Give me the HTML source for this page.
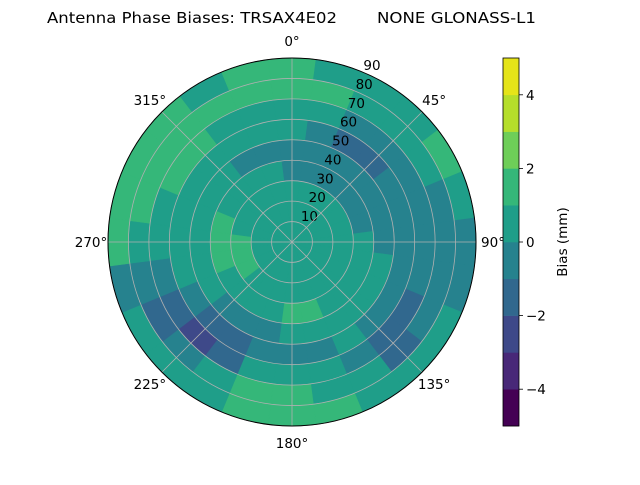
<!DOCTYPE html>
<html><head><meta charset="utf-8"><style>
body{margin:0;background:#fff;}
svg{font-family:"DejaVu Sans","Liberation Sans",sans-serif;}
</style></head><body>
<svg id="chart" width="640" height="480" viewBox="0 0 640 480" xmlns="http://www.w3.org/2000/svg">
<text x="47" y="23" font-size="15" textLength="290" lengthAdjust="spacingAndGlyphs">Antenna Phase Biases: TRSAX4E02</text>
<text x="377" y="23" font-size="15" textLength="159" lengthAdjust="spacingAndGlyphs">NONE GLONASS-L1</text>
<g id="cells"></g>
<g id="grid"></g>
<g id="cbar"></g>
</svg>
<script>
const ringEdges=[0,10,20,30,40,50,60,70,80,90];
const sectorAngles=[0,15,30,45,60,75,90,105,120,135,150,165,180,195,210,225,240,255,270,285,300,315,330,345];
const ring0=[0.5,0.5,0.5,0.5,0.5,0.5,0.5,0.5,0.5,0.5,0.5,0.5,0.5,0.5,0.5,0.5,0.5,0.5,0.5,0.5,0.5,0.5,0.5,0.5];
const ring1=[0.5,0.5,0.5,0.5,0.5,0.5,0.5,0.5,0.5,0.5,0.5,0.5,0.5,0.5,0.5,0.5,0.5,0.5,0.5,0.5,0.5,0.5,0.5,0.5];
const ring2=[0.5,0.5,0.5,0.5,0.5,0.5,0.5,0.5,0.5,0.5,0.5,0.5,0.5,0.5,0.5,0.5,1.5,1.5,1.5,0.5,0.5,0.5,0.5,0.5];
const ring3=[-0.5,-0.5,-0.5,-0.5,-0.5,-0.5,0.5,0.5,0.5,0.5,0.5,1.5,1.5,0.5,0.5,0.5,0.5,1.5,1.5,1.5,0.5,0.5,0.5,0.5];
const ring4=[-0.5,-0.5,-0.5,-0.5,-0.5,-0.5,-0.5,0.5,0.5,0.5,0.5,0.5,0.5,-0.5,-0.5,-0.5,0.5,0.5,0.5,0.5,0.5,0.5,-0.5,-0.5];
const ring5=[0.5,-0.5,-1.5,-1.5,-0.5,-0.5,-0.5,-0.5,-0.5,-0.5,0.5,-0.5,-0.5,-0.5,-1.5,-1.5,-0.5,0.5,0.5,0.5,0.5,0.5,0.5,0.5];
const ring6=[0.5,0.5,-0.5,-0.5,-0.5,-0.5,-0.5,-0.5,-1.5,-1.5,-0.5,0.5,0.5,0.5,-1.5,-2.5,-1.5,-0.5,0.5,0.5,1.5,1.5,0.5,0.5];
const ring7=[1.5,1.5,0.5,0.5,0.5,-0.5,-0.5,-0.5,-0.5,-1.5,0.5,0.5,1.5,1.5,0.5,-0.5,-1.5,-0.5,0.5,1.5,1.5,1.5,1.5,1.5];
const ring8=[1.5,0.5,0.5,0.5,1.5,0.5,-0.5,-0.5,0.5,0.5,0.5,1.5,1.5,1.5,0.5,0.5,0.5,-0.5,1.5,1.5,1.5,1.5,0.5,1.5];
const rings=[ring0,ring1,ring2,ring3,ring4,ring5,ring6,ring7,ring8];
const levels=[-5,-4,-3,-2,-1,0,1,2,3,4,5];
const cbTicks=[-4,-2,0,2,4];
const colors=["#440154","#482878","#3e4989","#31688e","#26828e","#1f9e89","#35b779","#6ece58","#b5de2b","#e5e419"];
const rLabels=[10,20,30,40,50,60,70,80,90];
const aLabels=[0,45,90,135,180,225,270,315];

const NS="http://www.w3.org/2000/svg";
const cx=292,cy=242,R=184,rMax=90;
const rs=v=>v/rMax*R;
function pt(deg,r){const a=deg*Math.PI/180;return [cx+r*Math.sin(a),cy-r*Math.cos(a)];}
function mk(tag,attrs,parent){const e=document.createElementNS(NS,tag);for(const k in attrs)e.setAttribute(k,attrs[k]);parent.appendChild(e);return e;}
const colorOf=v=>colors[Math.max(0,Math.min(9,Math.floor(v)+5))];

const cells=document.getElementById('cells');
rings.forEach((row,ri)=>{
  const r0=rs(ringEdges[ri]),r1=rs(ringEdges[ri+1]);
  row.forEach((v,si)=>{
    const a0=sectorAngles[si]-7.5,a1=sectorAngles[si]+7.5;
    const p0=pt(a0,r1),p1=pt(a1,r1),p2=pt(a1,r0),p3=pt(a0,r0);
    const d=`M${p0[0]},${p0[1]} A${r1},${r1} 0 0 1 ${p1[0]},${p1[1]} L${p2[0]},${p2[1]} A${r0},${r0} 0 0 0 ${p3[0]},${p3[1]} Z`;
    const c=mk('path',{d:d,fill:colorOf(v),stroke:colorOf(v),'stroke-width':0.6},cells);
    
    
  });
});

const grid=document.getElementById('grid');
rLabels.forEach(v=>{
  const c=mk('circle',{cx:cx,cy:cy,r:rs(v),fill:'none',stroke:'#b0b0b0','stroke-width':0.8},grid);
  
  
  const p=pt(22.5,rs(v));
  const t=mk('text',{x:p[0]+1,y:p[1]-2,'font-size':13.5},grid);
  t.textContent=v;
  
  
});
aLabels.forEach(a=>{
  const p=pt(a,R);
  const l=mk('line',{x1:cx,y1:cy,x2:p[0],y2:p[1],stroke:'#b0b0b0','stroke-width':0.8},grid);
  
  
  const q=pt(a,R+17);
  const t=mk('text',{x:q[0],y:q[1]+5,'font-size':13.5,'text-anchor':'middle'},grid);
  t.textContent=a+'°';
  
  
});
const border=mk('circle',{cx:cx,cy:cy,r:R,fill:'none',stroke:'#000','stroke-width':1},grid);



const cb=document.getElementById('cbar');
const cbX=503,cbW=16,cbTop=58,cbBot=426;
const cy2=v=>cbBot-(v-levels[0])/(levels[levels.length-1]-levels[0])*(cbBot-cbTop);
for(let i=0;i<levels.length-1;i++){
  const r=mk('rect',{x:cbX,y:cy2(levels[i+1]),width:cbW,height:cy2(levels[i])-cy2(levels[i+1])+0.3,fill:colors[i]},cb);
  
  
}
const fr=mk('rect',{x:cbX,y:cbTop,width:cbW,height:cbBot-cbTop,fill:'none',stroke:'#000','stroke-width':0.8},cb);


cbTicks.forEach(v=>{
  const y=cy2(v);
  const l=mk('line',{x1:cbX+cbW,y1:y,x2:cbX+cbW+4,y2:y,stroke:'#000','stroke-width':0.8},cb);
  
  
  const t=mk('text',{x:cbX+cbW+7,y:y+5,'font-size':13.5},cb);
  t.textContent=v<0?'−'+Math.abs(v):String(v);
  
  
});
const lab=mk('text',{x:0,y:0,'font-size':13.5,'text-anchor':'middle',transform:'translate(567,242) rotate(-90)'},cb);
lab.textContent='Bias (mm)';


</script>
</body></html>
